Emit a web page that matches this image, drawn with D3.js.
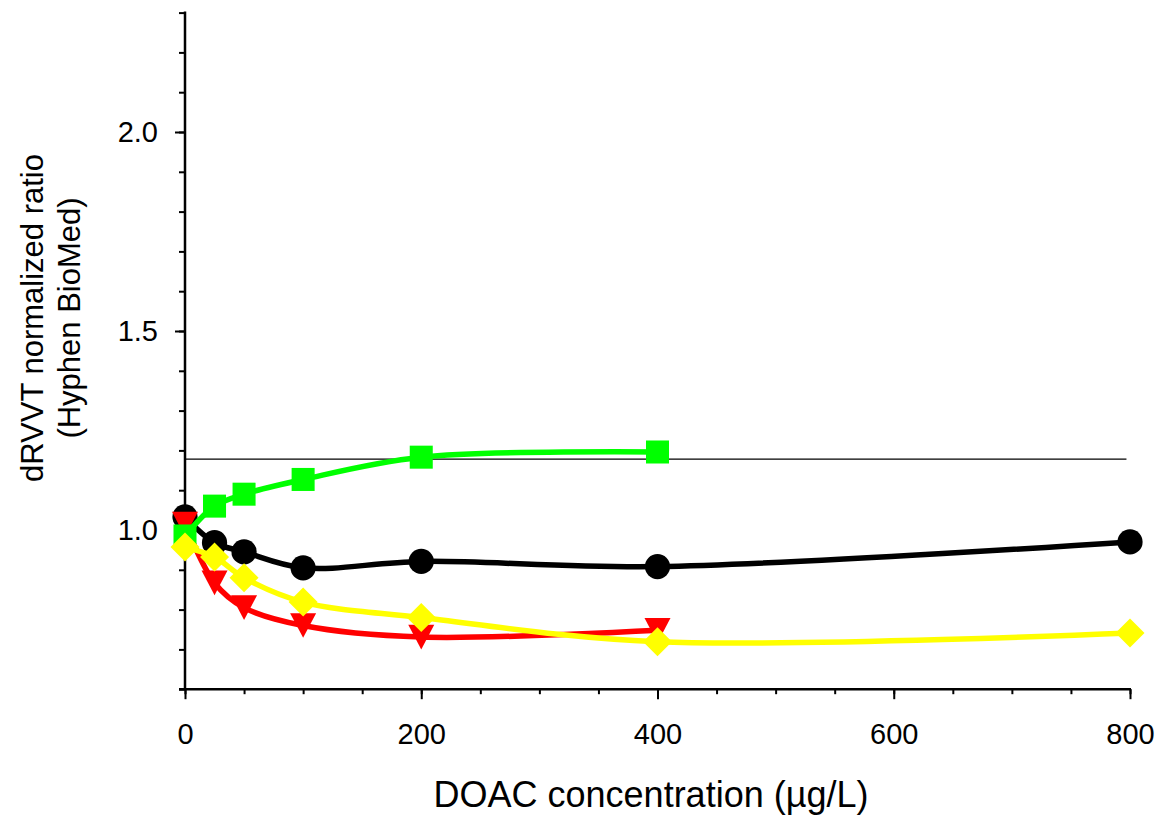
<!DOCTYPE html>
<html>
<head>
<meta charset="utf-8">
<script src="https://cdn.jsdelivr.net/npm/d3@7"></script>
<style>
  body { margin: 0; background: #fff; }
  text { font-family: Arial, "Liberation Sans", sans-serif; fill: #000; }
</style>
</head>
<body>
<div id="app"></div>
<script>
// concentrations (µg/L)
const CONC_FULL = [0, 25, 50, 100, 200, 400, 800];
const CONC_SHORT = [0, 25, 50, 100, 200, 400];

// normalized ratios
const BLACK_VALUES = [1.033, 0.968, 0.945, 0.905, 0.921, 0.908, 0.970];
const RED_VALUES = [1.015, 0.867, 0.805, 0.760, 0.731, 0.748];
const GREEN_VALUES = [0.985, 1.060, 1.090, 1.127, 1.183, 1.196];
const YELLOW_VALUES = [0.957, 0.932, 0.880, 0.819, 0.780, 0.719, 0.741];

const CUTOFF = 1.178;

const X_TICKS = [0, 200, 400, 600, 800];
const Y_TICKS = [1.0, 1.5, 2.0];

// series list, in drawing order
const series = [
  {name: 'black', x: CONC_FULL, y: BLACK_VALUES, color: '#000000', symbol: d3.symbolCircle, size: 500},
  {name: 'red', x: CONC_SHORT, y: RED_VALUES, color: '#ff0000', symbol: 'triDown', size: 26},
  {name: 'green', x: CONC_SHORT, y: GREEN_VALUES, color: '#00ff00', symbol: d3.symbolSquare, size: 530},
  {name: 'yellow', x: CONC_FULL, y: YELLOW_VALUES, color: '#ffff00', symbol: 'diamond', size: 29}
];

const width = 1164;
const height = 824;
const plot = {left: 185, right: 1130, top: 12.6, bottom: 689.2};

const svg = d3.select('#app')
  .append('svg')
  .attr('width', width)
  .attr('height', height);

const xScale = d3.scaleLinear()
  .domain([0, 800])
  .range([plot.left, plot.right]);

const yScale = d3.scaleLinear()
  .domain([0.6, 2.3])
  .range([plot.bottom, plot.top]);

function buildAxes(parent) {
  // x axis: minor ticks every 50, labels every 200
  const xMinor = parent.append('g')
    .attr('transform', `translate(0, ${plot.bottom})`)
    .call(d3.axisBottom(xScale).tickValues(d3.range(0, 801, 50)).tickSize(5).tickFormat(''));
  xMinor.select('.domain').remove();
  xMinor.selectAll('line').attr('stroke-width', 2);

  const xMajor = parent.append('g')
    .attr('transform', `translate(0, ${plot.bottom})`)
    .call(d3.axisBottom(xScale).tickValues(X_TICKS).tickSize(10).tickSizeOuter(0).tickPadding(24));
  xMajor.select('.domain').remove();
  xMajor.selectAll('line').attr('stroke-width', 2);
  xMajor.selectAll('text')
    .style('font-size', '29px')
    .attr('dy', '0.71em');

  parent.append('line')
    .attr('x1', plot.left - 6)
    .attr('x2', plot.right + 1)
    .attr('y1', plot.bottom)
    .attr('y2', plot.bottom)
    .attr('stroke', '#000')
    .attr('stroke-width', 2.5);

  // y axis: minor ticks every 0.1, labels every 0.5
  const yMinor = parent.append('g')
    .attr('transform', `translate(${plot.left}, 0)`)
    .call(d3.axisLeft(yScale).tickValues(d3.range(6, 24).map(v => v / 10)).tickSize(6).tickFormat(''));
  yMinor.select('.domain').remove();
  yMinor.selectAll('line').attr('stroke-width', 2);

  const yMajor = parent.append('g')
    .attr('transform', `translate(${plot.left}, 0)`)
    .call(d3.axisLeft(yScale).tickValues(Y_TICKS).tickSize(10).tickPadding(17).tickFormat(d3.format('.1f')));
  yMajor.select('.domain').remove();
  yMajor.selectAll('line').attr('stroke-width', 2);
  yMajor.selectAll('text').style('font-size', '29px');

  parent.append('line')
    .attr('x1', plot.left)
    .attr('x2', plot.left)
    .attr('y1', plot.top - 1)
    .attr('y2', plot.bottom)
    .attr('stroke', '#000')
    .attr('stroke-width', 2.5);

  // axis titles
  parent.append('text')
    .attr('x', 651)
    .attr('y', 807)
    .attr('text-anchor', 'middle')
    .style('font-size', '36px')
    .text('DOAC concentration (µg/L)');

  const yTitle = parent.append('text')
    .attr('transform', 'translate(43, 318) rotate(-90)')
    .attr('text-anchor', 'middle')
    .style('font-size', '31px');
  yTitle.append('tspan').attr('x', 0).attr('y', 0).text('dRVVT normalized ratio');
  yTitle.append('tspan').attr('x', 0).attr('y', 37).text('(Hyphen BioMed)');
}

function markerPath(symbol, size) {
  if (symbol === 'triDown') {
    const h = size * 0.95;
    return `M${-size / 2},${-h / 2}L${size / 2},${-h / 2}L0,${h / 2}Z`;
  }
  if (symbol === 'diamond') {
    const r = size / 2;
    return `M0,${-r}L${r},0L0,${r}L${-r},0Z`;
  }
  return d3.symbol().type(symbol).size(size)();
}

function buildSeries(parent, s) {
  const pts = s.x.map((x, i) => ({x, y: s.y[i]}));
  const g = parent.append('g').attr('class', `series-${s.name}`);

  const line = d3.line()
    .x(d => xScale(d.x))
    .y(d => yScale(d.y))
    .curve(d3.curveCatmullRom.alpha(0.5));

  g.append('path')
    .datum(pts)
    .attr('d', line)
    .attr('fill', 'none')
    .attr('stroke', s.color)
    .attr('stroke-width', 5.5);

  g.selectAll('path.marker')
    .data(pts)
    .join('path')
    .attr('class', 'marker')
    .attr('transform', d => `translate(${xScale(d.x)}, ${yScale(d.y)})`)
    .attr('d', markerPath(s.symbol, s.size))
    .attr('fill', s.color);
}

buildAxes(svg);

// cut-off line
svg.append('line')
  .attr('x1', xScale(0))
  .attr('x2', xScale(797))
  .attr('y1', yScale(CUTOFF))
  .attr('y2', yScale(CUTOFF))
  .attr('stroke', '#000')
  .attr('stroke-width', 1.2);

series.forEach(s => buildSeries(svg, s));
</script>
</body>
</html>
